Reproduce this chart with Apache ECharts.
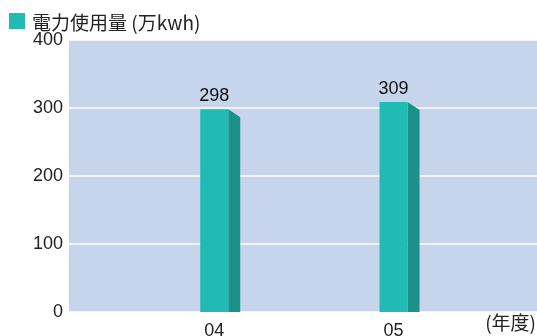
<!DOCTYPE html>
<html>
<head>
<meta charset="utf-8">
<script src="https://cdn.jsdelivr.net/npm/echarts@6/dist/echarts.min.js"></script>
<style>
  html, body { margin: 0; padding: 0; background: #ffffff; }
  #chart { width: 537px; height: 336px; }
</style>
</head>
<body>
<div id="chart"></div>
<script>
// Fiscal years and electricity use (10,000 kWh)
const years = ['04', '05'];
const usage = [298, 309];
const yTicks = [0, 100, 200, 300, 400];

const FRONT = '#22bbb4';
const SIDE = '#1b9189';
const PLOT_BG = '#c6d4ec';

const seriesData = years.map((y, i) => [parseInt(y, 10), usage[i]]);

const chart = echarts.init(document.getElementById('chart'), null, { renderer: 'canvas' });

chart.setOption({
  animation: false,
  backgroundColor: '#ffffff',
  title: {
    text: '電力使用量 (万kwh)',
    left: 27,
    top: 8,
    textStyle: {
      fontFamily: 'Noto Sans CJK JP',
      fontSize: 19,
      fontWeight: 'normal',
      color: '#222222'
    }
  },
  graphic: [
    { type: 'rect', left: 9, top: 13, shape: { width: 16, height: 16 }, style: { fill: FRONT } },
    {
      type: 'text', right: 1, top: 313,
      style: { text: '(年度)', font: '19px "Noto Sans CJK JP"', fill: '#222222' }
    }
  ],
  grid: {
    left: 69, right: 0, top: 40, bottom: 24,
    outerBoundsMode: 'none',
    show: true, backgroundColor: PLOT_BG, borderWidth: 0
  },
  xAxis: {
    type: 'value',
    min: 3.19,
    max: 5.8,
    axisLine: { show: false },
    axisTick: { show: false },
    splitLine: { show: false },
    axisLabel: {
      customValues: seriesData.map(d => d[0]),
      formatter: v => String(v).padStart(2, '0'),
      margin: 10,
      fontFamily: 'Liberation Sans',
      fontSize: 18,
      color: '#222222'
    }
  },
  yAxis: {
    type: 'value',
    min: yTicks[0],
    max: yTicks[yTicks.length - 1],
    interval: 100,
    axisLine: { show: false },
    axisTick: { show: false },
    splitLine: { lineStyle: { color: '#ffffff', width: 1.5 } },
    axisLabel: {
      margin: 6,
      fontFamily: 'Liberation Sans',
      fontSize: 18,
      color: '#222222',
      padding: [2, 0, 0, 0]
    }
  },
  series: [{
    type: 'custom',
    data: seriesData,
    encode: { x: 0, y: 1 },
    renderItem: (params, api) => {
      const x = api.value(0);
      const v = api.value(1);
      const top = api.coord([x, v]);
      const base = api.coord([x, 0]);
      const half = 14, depth = 12, drop = 8;
      return {
        type: 'group',
        children: [
          {
            type: 'polygon',
            shape: {
              points: [
                [top[0] + half, top[1]],
                [top[0] + half + depth, top[1] + drop],
                [top[0] + half + depth, base[1]],
                [top[0] + half, base[1]]
              ]
            },
            style: { fill: SIDE }
          },
          {
            type: 'rect',
            shape: { x: top[0] - half, y: top[1], width: half * 2, height: base[1] - top[1] },
            style: { fill: FRONT },
            textContent: {
              style: {
                text: String(v),
                font: '18px "Liberation Sans"',
                fill: '#111111'
              }
            },
            textConfig: { position: 'top', distance: 4 }
          }
        ]
      };
    }
  }]
});
</script>
</body>
</html>
